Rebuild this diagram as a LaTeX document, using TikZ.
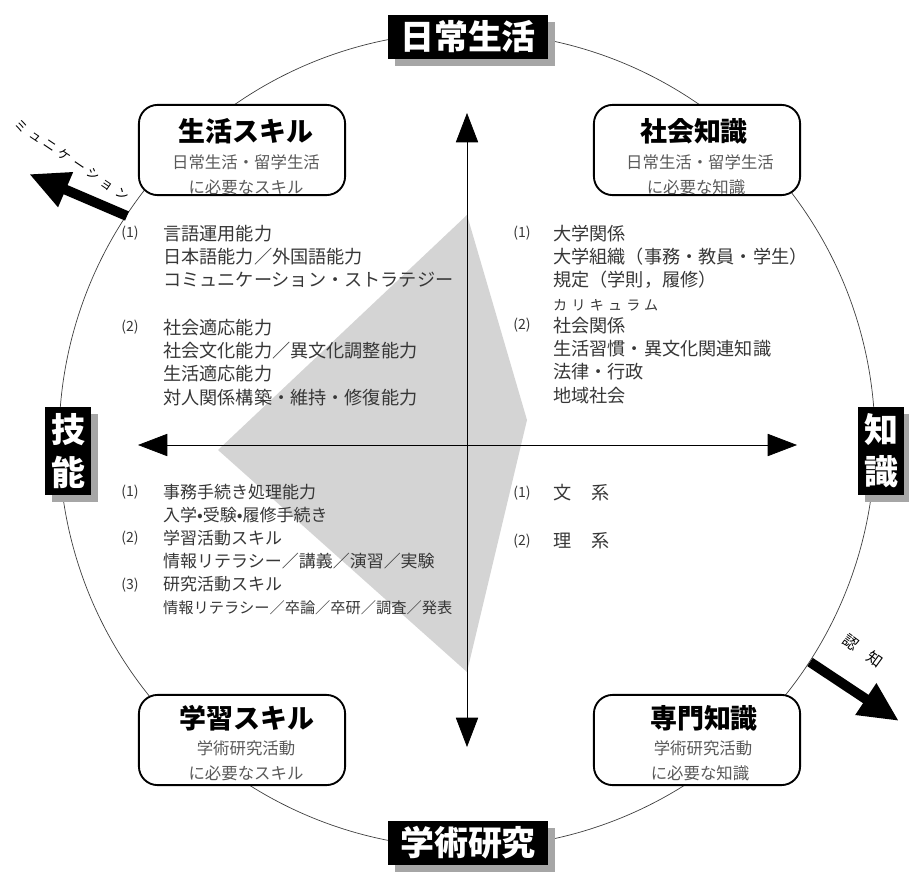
\documentclass[tikz,border=0pt]{standalone}
\usepackage{fontspec}
\setmainfont{Noto Sans CJK JP}
\usetikzlibrary{arrows.meta, shadows}
\definecolor{shadecolor}{RGB}{212,212,212}
\definecolor{textgray}{RGB}{55,55,55}
\definecolor{subgray}{RGB}{90,90,90}

\begin{document}
\begin{tikzpicture}[
    x=0.03cm, y=-0.03cm,
    darklabel/.style={fill=black, text=white, font=\bfseries\fontsize{29}{29}\selectfont, inner sep=0pt, minimum width=136pt, minimum height=37pt, drop shadow={fill=black!35, opacity=1, shadow xshift=6pt, shadow yshift=-6pt}},
    sidelabel/.style={darklabel, minimum width=40pt, minimum height=75pt, align=center, font=\bfseries\fontsize{29}{36}\selectfont},
    skillbox/.style={draw, rectangle, rounded corners=16pt, line width=1.6pt, fill=white, minimum width=176pt, minimum height=77pt},
    boxtitle/.style={font=\bfseries\fontsize{23}{23}\selectfont, inner sep=0pt},
    boxsub/.style={font=\fontsize{14}{14}\selectfont, text=subgray, inner sep=0pt},
    listnum/.style={font=\fontsize{12}{12}\selectfont, text=textgray, inner sep=0pt, anchor=center},
    listtext/.style={font=\fontsize{15.5}{19.8}\selectfont, text=textgray, inner sep=0pt, anchor=north west, align=left},
    axisarrow/.style={{Triangle[length=25pt, width=19pt]}-{Triangle[length=25pt, width=19pt]}, line width=0.6pt},
    bigarrow/.style={-{Triangle[length=34pt, width=30pt]}, line width=8.5pt}
]
    \useasboundingbox (0,0) rectangle (909,872);

    % Schattierung
    \fill[shadecolor] (467,215) -- (218,450) -- (467,672) -- (527,420) -- cycle;

    % Kreis
    \coordinate (mid) at (467,440);
    \draw[black!75, line width=0.6pt] (mid) circle[radius=408];

    % Achsen
    \coordinate (axtop) at (467,113);
    \coordinate (axbot) at (467,747);
    \coordinate (axleft) at (138,445);
    \coordinate (axright) at (797,445);
    \draw[axisarrow] (axbot) -- (axtop);
    \draw[axisarrow] (axleft) -- (axright);

    % Achsenbeschriftungen
    \node[darklabel] (daily) at (468,37) {日常生活};
    \node[darklabel] (academic) at (468,843) {学術研究};
    \node[sidelabel] (skill) at (68,451) {技\\能};
    \node[sidelabel] (knowledge) at (881,451) {知\\識};

    % Ecken
    \node[skillbox] (lifeskill) at (242,150) {};
    \node[boxtitle] (lifeskillhead) at (246,131) {生活スキル};
    \node[boxsub] (lifeskillsub) at (246,162) {日常生活・留学生活};
    \node[boxsub] (lifeskillneed) at (246,187) {に必要なスキル};

    \node[skillbox] (socialknow) at (697,150) {};
    \node[boxtitle] (socialknowhead) at (694,131) {社会知識};
    \node[boxsub] (socialknowsub) at (700,162) {日常生活・留学生活};
    \node[boxsub] (socialknowneed) at (696,187) {に必要な知識};

    \node[skillbox] (studyskill) at (242,740) {};
    \node[boxtitle] (studyskillhead) at (247,718) {学習スキル};
    \node[boxsub] (studyskillsub) at (246,748) {学術研究活動};
    \node[boxsub] (studyskillneed) at (246,773) {に必要なスキル};

    \node[skillbox] (specialknow) at (697,740) {};
    \node[boxtitle] (specialknowhead) at (704,718) {専門知識};
    \node[boxsub] (specialknowsub) at (703,748) {学術研究活動};
    \node[boxsub] (specialknowneed) at (700,773) {に必要な知識};

    % Richtungspfeile
    \coordinate (commtail) at (127,216);
    \coordinate (commtip) at (29,174);
    \draw[bigarrow] (commtail) -- (commtip);
    \node[font=\fontsize{11}{11}\selectfont\addfontfeature{LetterSpace=35}, rotate=-34, inner sep=0pt] (commlabel) at (72,160) {ミュニケーション};

    \coordinate (cogtail) at (810,662);
    \coordinate (cogtip) at (899,721);
    \draw[bigarrow] (cogtail) -- (cogtip);
    \node[font=\fontsize{13}{13}\selectfont, rotate=-36, inner sep=0pt] (coglabel) at (863,651) {認\hspace{0.9em}知};

    % Liste oben links
    \node[listnum] (skillnumA) at (130,233) {(1)};
    \node[listtext] (skilllistA) at (163,225) {言語運用能力\\日本語能力／外国語能力\\コミュニケーション・ストラテジー};
    \node[listnum] (skillnumB) at (130,327) {(2)};
    \node[listtext] (skilllistB) at (163,319) {社会適応能力\\社会文化能力／異文化調整能力\\生活適応能力\\対人関係構築・維持・修復能力};

    % Liste oben rechts
    \node[listnum] (knownumA) at (522,233) {(1)};
    \node[listtext] (knowlistA) at (553,225) {大学関係\\大学組織（事務・教員・学生）\\規定（学則，履修）\\{\fontsize{12}{19.8}\selectfont\addfontfeature{LetterSpace=30}カリキュラム}};
    \node[listnum] (knownumB) at (522,325) {(2)};
    \node[listtext] (knowlistB) at (553,317) {社会関係\\生活習慣・異文化関連知識\\法律・行政\\地域社会};

    % Liste unten links
    \node[listnum] (studynumA) at (130,492) {(1)};
    \node[listnum] (studynumB) at (130,538) {(2)};
    \node[listnum] (studynumC) at (130,585) {(3)};
    \node[listtext, font=\fontsize{14.5}{19.7}\selectfont] (studylist) at (163,484) {事務手続き処理能力\\入学•受験•履修手続き\\学習活動スキル\\情報リテラシー／講義／演習／実験\\研究活動スキル\\{\fontsize{13}{19.7}\selectfont 情報リテラシー／卒論／卒研／調査／発表}};

    % Liste unten rechts
    \node[listnum] (fieldnumA) at (522,493) {(1)};
    \node[listtext, anchor=west] (fieldA) at (553,493) {文\hspace{1.1em}系};
    \node[listnum] (fieldnumB) at (522,541) {(2)};
    \node[listtext, anchor=west] (fieldB) at (553,541) {理\hspace{1.1em}系};
\end{tikzpicture}
\end{document}
